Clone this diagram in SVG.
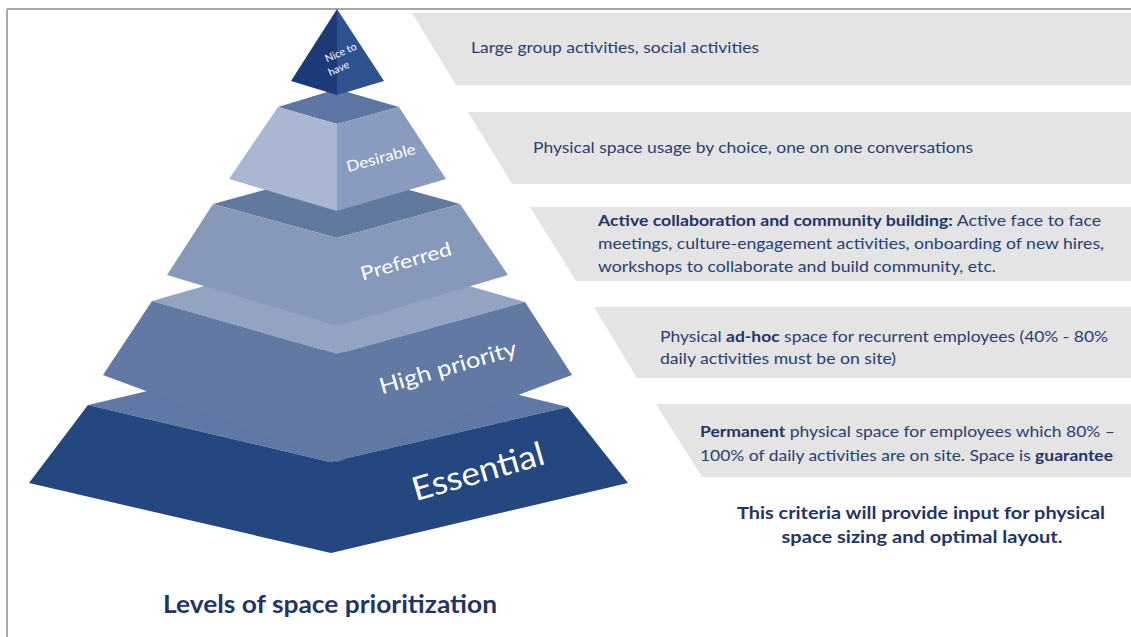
<svg xmlns="http://www.w3.org/2000/svg" width="1131" height="637" viewBox="0 0 1131 637">
  <defs>
    <style>
      .band { fill: #e4e4e4; }
      .txt { font-family: Lato, "Open Sans", "Liberation Sans", sans-serif; font-size: 15px; fill: #283f74; }
      .b { font-weight: bold; fill: #1f3568; }
      .lbl { font-family: Lato, "Open Sans", "Liberation Sans", sans-serif; fill: #ffffff; text-anchor: middle; }
      .frame { stroke: #a3abab; stroke-width: 2; fill: none; }
    </style>
  </defs>

  <rect x="0" y="0" width="1131" height="637" fill="#ffffff"/>

  <!-- page frame -->
  <g id="frame">
    <line class="frame" x1="7" y1="9" x2="1131" y2="9"/>
    <line class="frame" x1="7" y1="9" x2="7" y2="637"/>
  </g>

  <!-- description bands -->
  <g id="band-nice">
    <polygon class="band" points="412,13 1131,13 1131,85 456,85"/>
    <text class="txt" x="471" y="53" textLength="288" lengthAdjust="spacingAndGlyphs">Large group activities, social activities</text>
  </g>
  <g id="band-desirable">
    <polygon class="band" points="468,112 1131,112 1131,184 512,184"/>
    <text class="txt" x="533" y="153" textLength="440" lengthAdjust="spacingAndGlyphs">Physical space usage by choice, one on one conversations</text>
  </g>
  <g id="band-preferred">
    <polygon class="band" points="530,207 1131,207 1131,281 576,281"/>
    <text class="txt" x="598" y="226" textLength="503" lengthAdjust="spacingAndGlyphs"><tspan class="b">Active collaboration and community building:</tspan> Active face to face</text>
    <text class="txt" x="598" y="249" textLength="506" lengthAdjust="spacingAndGlyphs">meetings, culture-engagement activities, onboarding of new hires,</text>
    <text class="txt" x="598" y="272" textLength="398" lengthAdjust="spacingAndGlyphs">workshops to collaborate and build community, etc.</text>
  </g>
  <g id="band-high">
    <polygon class="band" points="594,307 1131,307 1131,378 637,378"/>
    <text class="txt" x="660" y="342" textLength="448" lengthAdjust="spacingAndGlyphs">Physical <tspan class="b">ad-hoc</tspan> space for recurrent employees (40% - 80%</text>
    <text class="txt" x="660" y="364" textLength="236" lengthAdjust="spacingAndGlyphs">daily activities must be on site)</text>
  </g>
  <g id="band-essential">
    <polygon class="band" points="656,404 1131,404 1131,477 702,477"/>
    <text class="txt" x="700" y="437" textLength="415" lengthAdjust="spacingAndGlyphs"><tspan class="b">Permanent</tspan> physical space for employees which 80% –</text>
    <text class="txt" x="700" y="461" textLength="413" lengthAdjust="spacingAndGlyphs">100% of daily activities are on site. Space is <tspan class="b">guarantee</tspan></text>
  </g>

  <!-- pyramid, drawn from the base upward -->
  <g id="tier-essential">
    <polygon fill="#6078a5" points="88,405 330,348 568,407 330,462"/>
    <polygon fill="#24477f" points="88,405 330,462 568,407 628,483 331,553 29,483"/>
    <text class="lbl" font-size="33" transform="translate(478,472) rotate(-16)" y="11" textLength="136" lengthAdjust="spacingAndGlyphs">Essential</text>
  </g>
  <g id="tier-high">
    <polygon fill="#93a4c2" points="152,301 337,248 525,302 337,354"/>
    <polygon fill="#6279a3" points="152,301 337,354 525,302 572,375 337,462 103,375"/>
    <text class="lbl" font-size="22" transform="translate(448,368) rotate(-16)" y="7" textLength="142" lengthAdjust="spacingAndGlyphs">High priority</text>
  </g>
  <g id="tier-preferred">
    <polygon fill="#62799f" points="213,204 337,170 460,204 337,238"/>
    <polygon fill="#8799bb" points="213,204 337,238 460,204 508,275 337,326 167,275"/>
    <text class="lbl" font-size="19" transform="translate(406,262) rotate(-16)" y="6" textLength="94" lengthAdjust="spacingAndGlyphs">Preferred</text>
  </g>
  <g id="tier-desirable">
    <polygon fill="#5e76a4" points="278,107 337,89 399,107 337,124"/>
    <polygon fill="#aab7d3" points="278,107 337,124 337,211 229,179"/>
    <polygon fill="#8a9bc0" points="337,124 399,107 446,179 337,211"/>
    <text class="lbl" font-size="15" transform="translate(381,158) rotate(-15)" y="5" textLength="71" lengthAdjust="spacingAndGlyphs">Desirable</text>
  </g>
  <g id="tier-nice">
    <polygon fill="#1c3a78" points="337,9 337,95 291,81"/>
    <polygon fill="#2e5290" points="337,9 384,81 337,95"/>
    <text class="lbl" font-size="10.5" transform="translate(341,53) rotate(-24)" y="3">Nice to</text>
    <text class="lbl" font-size="10.5" transform="translate(339,69) rotate(-24)" y="3">have</text>
  </g>

  <!-- summary note and caption -->
  <g id="note">
    <text class="txt b" text-anchor="middle" x="921" y="519" textLength="368" lengthAdjust="spacingAndGlyphs" style="font-size:17px">This criteria will provide input for physical</text>
    <text class="txt b" text-anchor="middle" x="922" y="543" textLength="281" lengthAdjust="spacingAndGlyphs" style="font-size:17px">space sizing and optimal layout.</text>
  </g>
  <g id="caption">
    <text class="txt b" x="163" y="613" textLength="334" lengthAdjust="spacingAndGlyphs" style="font-size:24px">Levels of space prioritization</text>
  </g>
</svg>
